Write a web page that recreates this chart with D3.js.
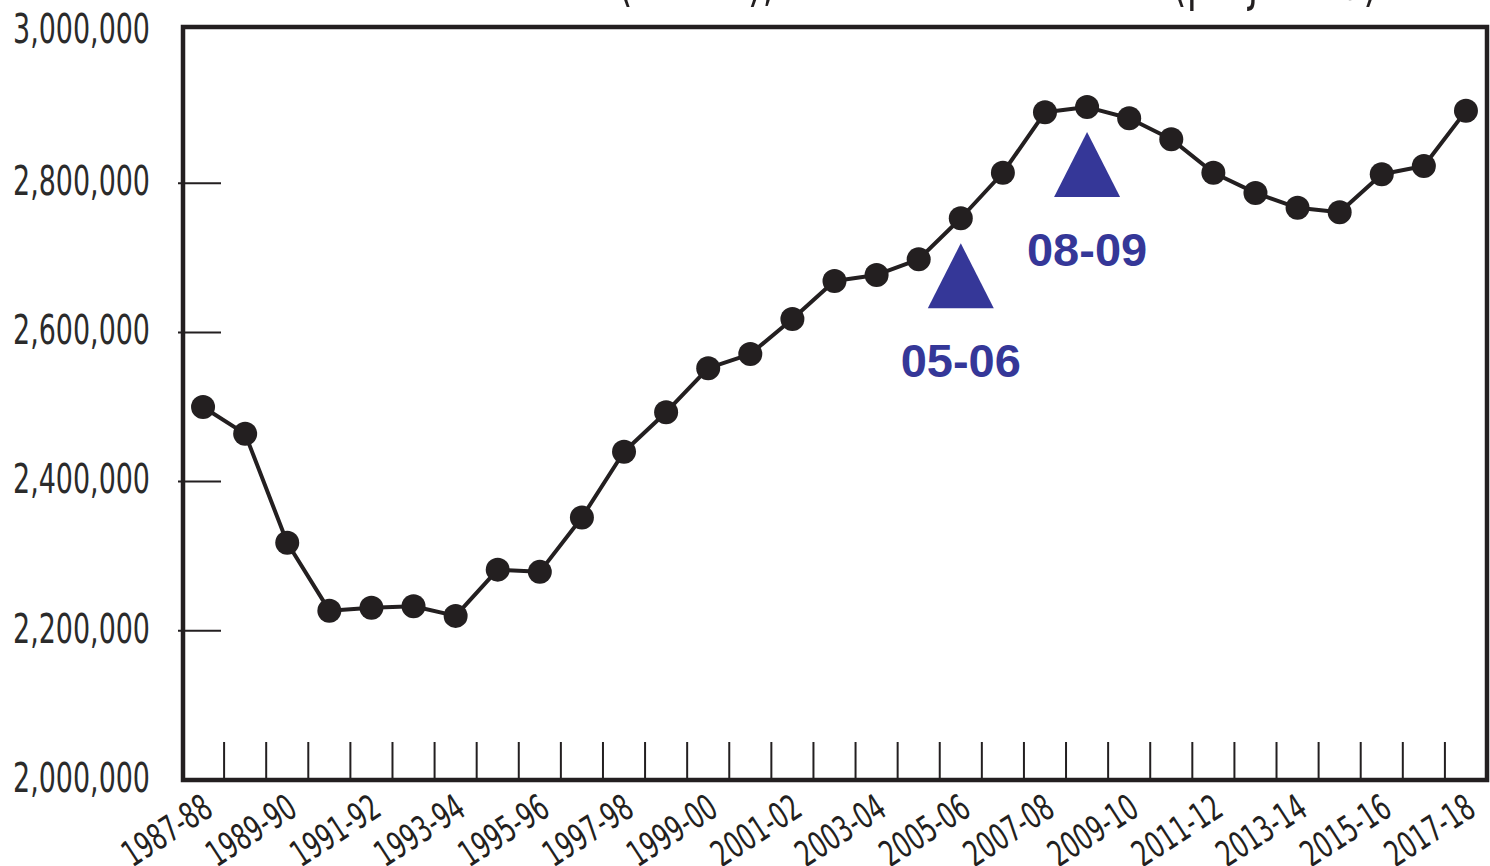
<!DOCTYPE html>
<html>
<head>
<meta charset="utf-8">
<script src="https://cdn.jsdelivr.net/npm/d3@7"></script>
<style>
  html, body { margin: 0; padding: 0; background: #ffffff; }
  svg { display: block; }
  .cond { font-family: "DejaVu Sans Condensed", "DejaVu Sans", sans-serif; font-stretch: condensed; }
</style>
</head>
<body>
<svg id="chart" width="1490" height="866"></svg>
<script>
// ---- data ----
const years = ["1987-88","1988-89","1989-90","1990-91","1991-92","1992-93","1993-94","1994-95","1995-96","1996-97",
  "1997-98","1998-99","1999-00","2000-01","2001-02","2002-03","2003-04","2004-05","2005-06","2006-07",
  "2007-08","2008-09","2009-10","2010-11","2011-12","2012-13","2013-14","2014-15","2015-16","2016-17","2017-18"];
const enrollment = [2500000,2464000,2318000,2227000,2231000,2233000,2220000,2282000,2279000,2352000,
  2440000,2493000,2552000,2571000,2618000,2669000,2677000,2698000,2753000,2814000,
  2895000,2902000,2887000,2859000,2814000,2787000,2767000,2761000,2812000,2823000,2897000];
const yTickValues = [2000000,2200000,2400000,2600000,2800000,3000000];
const xLabelYears = years.filter((d,i) => i % 2 === 0);
const markYears = ["2005-06","2008-09"];
const markLabels = ["05-06","08-09"];
const titleText = "1987-88 to 2001-02 (actual), 2002-03 to 2017-18 (projected)";

// ---- layout ----
const mLeft = 183, mRight = 1487, mTop = 27, mBottom = 780;
const ink = "#231f20", blue = "#353798";

const svg = d3.select("#chart");

const x = d3.scaleBand().domain(years).range([mLeft - 1, mRight]).padding(0);
const y = d3.scaleLinear().domain([2000000, 3000000]).range([mBottom, 34]);
const cx = d => x(d) + x.bandwidth() / 2;
const fmt = d3.format(",");

// horizontal compression factor to mimic the condensed typeface
const probe = svg.append("text").attr("class","cond").attr("font-size", 41).text(fmt(3000000));
const sx = 137 / probe.node().getComputedTextLength();
probe.remove();

// title (cut off at top, as in the source image)
svg.append("text").attr("class","cond")
  .attr("transform", `translate(805,-1) scale(${sx},1)`)
  .attr("text-anchor","middle")
  .attr("font-size", 57).attr("fill", ink)
  .text(titleText);

// y tick labels
svg.append("g").selectAll("text").data(yTickValues).join("text")
  .attr("class","cond")
  .attr("transform", d => `translate(150,${y(d) - (d === 3000000 ? 6 : 3)}) scale(${sx},1)`)
  .attr("dy","0.36em")
  .attr("text-anchor","end")
  .attr("font-size", 41)
  .attr("fill", "#2b2b2b")
  .text(d => fmt(d));

// y tick marks (inner)
svg.append("g").selectAll("line").data(yTickValues.filter(d => d > 2000000 && d < 3000000)).join("line")
  .attr("x1", mLeft - 5).attr("x2", mLeft + 38)
  .attr("y1", d => y(d)).attr("y2", d => y(d))
  .attr("stroke", ink).attr("stroke-width", 2);

// x tick marks at band boundaries
svg.append("g").selectAll("line").data(years.slice(1)).join("line")
  .attr("x1", d => x(d)).attr("x2", d => x(d))
  .attr("y1", mBottom - 38).attr("y2", mBottom)
  .attr("stroke", ink).attr("stroke-width", 2);

// x labels
svg.append("g").selectAll("text").data(xLabelYears).join("text")
  .attr("class","cond")
  .attr("text-anchor","end")
  .attr("font-size", 36)
  .attr("fill", ink)
  .attr("transform", d => `translate(${cx(d) + 12},${mBottom + 34}) rotate(-33) scale(${sx},1)`)
  .text(d => d);

// frame
svg.append("rect")
  .attr("x", mLeft).attr("y", mTop)
  .attr("width", mRight - mLeft).attr("height", mBottom - mTop)
  .attr("fill","none").attr("stroke", ink).attr("stroke-width", 4.5);

// line
const line = d3.line().x((d,i) => cx(years[i])).y(d => y(d));
svg.append("path").datum(enrollment)
  .attr("d", line).attr("fill","none")
  .attr("stroke", ink).attr("stroke-width", 4).attr("stroke-linejoin","round");

// points
svg.append("g").selectAll("circle").data(enrollment).join("circle")
  .attr("cx", (d,i) => cx(years[i])).attr("cy", d => y(d))
  .attr("r", 12).attr("fill", ink);

// annotation triangles + labels
const ann = markYears.map((yr, i) => ({ yr, label: markLabels[i], v: enrollment[years.indexOf(yr)] }));
const g = svg.append("g");
g.selectAll("path").data(ann).join("path")
  .attr("d", d => {
    const px = cx(d.yr), apex = y(d.v) + 25;
    return `M${px},${apex}L${px + 33},${apex + 65}L${px - 33},${apex + 65}Z`;
  })
  .attr("fill", blue);
g.selectAll("text").data(ann).join("text")
  .attr("x", d => cx(d.yr))
  .attr("y", d => y(d.v) + 25 + 65 + 69)
  .attr("text-anchor","middle")
  .attr("font-family","'Liberation Sans', Arial, sans-serif")
  .attr("font-weight","bold")
  .attr("font-size", 47)
  .attr("fill", blue)
  .text(d => d.label);
</script>
</body>
</html>
